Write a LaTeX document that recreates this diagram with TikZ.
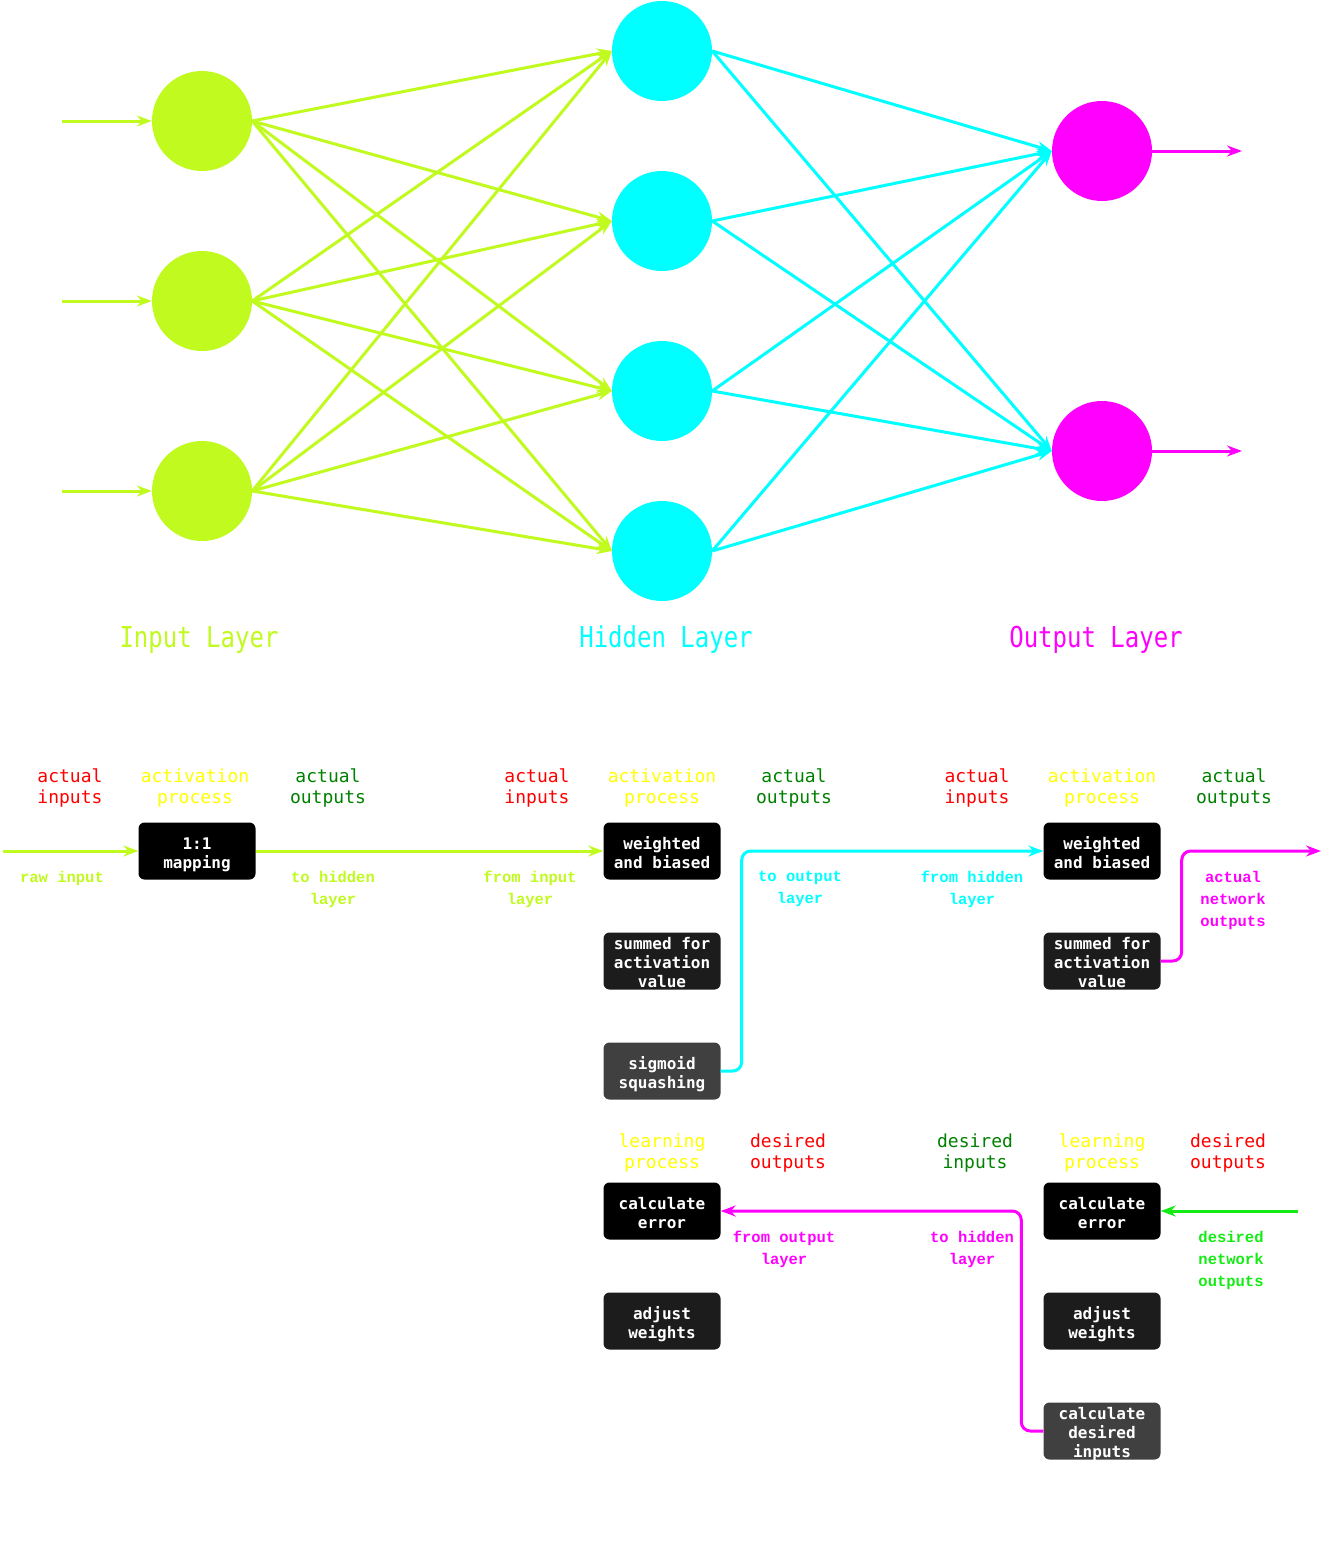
\documentclass[tikz,border=0pt]{standalone}
\usepackage{fontspec}
\newfontfamily\dmono{DejaVu Sans Mono}
\newfontfamily\cmono{Liberation Mono}
\usetikzlibrary{arrows.meta}
\definecolor{lime}{RGB}{192,250,30}
\definecolor{cyn}{RGB}{0,255,255}
\definecolor{mag}{RGB}{255,0,255}
\definecolor{dgreen}{RGB}{0,128,0}
\definecolor{bgreen}{RGB}{20,235,20}
\definecolor{yel}{RGB}{255,255,0}
\definecolor{rd}{RGB}{255,0,0}
\definecolor{box1}{RGB}{0,0,0}
\definecolor{box2}{RGB}{28,28,28}
\definecolor{box3}{RGB}{64,64,64}
\newcommand{\tallt}[1]{\scalebox{1}[1.2]{#1}}
\newcommand{\btxt}[1]{\raisebox{-4pt}[\height][\depth]{\begin{tabular}{@{}c@{}}#1\end{tabular}}}
\begin{document}
\begin{tikzpicture}[x=1pt,y=-1pt,
  neuron/.style={circle,minimum size=100pt,inner sep=0pt},
  edge/.style={line width=3pt,-{Stealth[length=15pt,width=11pt,inset=5pt]}},
  conn/.style={line width=3pt,-{Stealth[length=15pt,width=11pt,inset=5pt]}},
  layerlbl/.style={font=\dmono\fontsize{24}{28}\selectfont},
  pbox/.style={rounded corners=6pt,minimum width=117pt,minimum height=57pt,inner sep=0pt,align=center,text=white,font=\dmono\bfseries\fontsize{16}{19}\selectfont},
  head/.style={align=center,font=\dmono\fontsize{18}{21}\selectfont},
  small/.style={align=center,font=\cmono\bfseries\fontsize{15.5}{22}\selectfont}
]
\useasboundingbox (0,0) rectangle (1322,1547);
% ---------- neurons ----------
\node[neuron,fill=lime] (i1) at (202,121) {};
\node[neuron,fill=lime] (i2) at (202,301) {};
\node[neuron,fill=lime] (i3) at (202,491) {};
\node[neuron,fill=cyn] (h1) at (662,51) {};
\node[neuron,fill=cyn] (h2) at (662,221) {};
\node[neuron,fill=cyn] (h3) at (662,391) {};
\node[neuron,fill=cyn] (h4) at (662,551) {};
\node[neuron,fill=mag] (o1) at (1102,151) {};
\node[neuron,fill=mag] (o2) at (1102,451) {};
\coordinate (in1) at (62,121);
\coordinate (in2) at (62,301);
\coordinate (in3) at (62,491);
\coordinate (out1) at (1242,151);
\coordinate (out2) at (1242,451);
\foreach \k in {1,2,3} {\draw[edge,lime] (in\k) -- (i\k.west);}
\foreach \i in {1,2,3} {\foreach \h in {1,2,3,4} {\draw[edge,lime] (i\i.east) -- (h\h.west);}}
\foreach \h in {1,2,3,4} {\foreach \o in {1,2} {\draw[edge,cyn] (h\h.east) -- (o\o.west);}}
\draw[edge,mag] (o1.east) -- (out1);
\draw[edge,mag] (o2.east) -- (out2);
% ---------- layer labels ----------
\node[layerlbl,text=lime] (lin) at (199,640) {\tallt{Input Layer}};
\node[layerlbl,text=cyn] (lhid) at (666,640) {\tallt{Hidden Layer}};
\node[layerlbl,text=mag] (lout) at (1096,640) {\tallt{Output Layer}};
% ---------- activation headings ----------
\node[head,text=rd] (ha1) at (70,788) {actual\\inputs};
\node[head,text=yel] (hb1) at (195,788) {activation\\process};
\node[head,text=dgreen] (hc1) at (328,788) {actual\\outputs};
\node[head,text=rd] (ha2) at (537,788) {actual\\inputs};
\node[head,text=yel] (hb2) at (662,788) {activation\\process};
\node[head,text=dgreen] (hc2) at (794,788) {actual\\outputs};
\node[head,text=rd] (ha3) at (977,788) {actual\\inputs};
\node[head,text=yel] (hb3) at (1102,788) {activation\\process};
\node[head,text=dgreen] (hc3) at (1234,788) {actual\\outputs};
% ---------- activation boxes ----------
\node[pbox,fill=box1] (map) at (197,851) {\btxt{1:1\\mapping}};
\node[pbox,fill=box1] (wb1) at (662,851) {\btxt{weighted\\and biased}};
\node[pbox,fill=box2] (sum1) at (662,961) {\btxt{summed for\\activation\\value}};
\node[pbox,fill=box3] (sig) at (662,1071) {\btxt{sigmoid\\squashing}};
\node[pbox,fill=box1] (wb2) at (1102,851) {\btxt{weighted\\and biased}};
\node[pbox,fill=box2] (sum2) at (1102,961) {\btxt{summed for\\activation\\value}};
% ---------- small labels (activation) ----------
\node[small,text=lime] (lraw) at (62,878) {raw input};
\node[small,text=lime] (lth) at (333,889) {to hidden\\layer};
\node[small,text=lime] (lfi) at (530,889) {from input\\layer};
\node[small,text=cyn] (lto) at (800,889) {to output\\layer};
\node[small,text=cyn] (lfh) at (972,889) {from hidden\\layer};
\node[small,text=mag] (lano) at (1233,900) {actual\\network\\outputs};
% ---------- activation connectors ----------
\coordinate (rawin) at (3,851);
\coordinate (netout) at (1321,851);
\draw[conn,lime] (rawin) -- (map.west);
\draw[conn,lime] (map.east) -- (wb1.west);
\draw[conn,cyn,rounded corners=9pt] (sig.east) -- ++(21,0) |- (wb2.west);
\draw[conn,mag,rounded corners=9pt] (sum2.east) -- ++(21,0) |- (netout);
% ---------- learning headings ----------
\node[head,text=yel] (hl1) at (662,1153) {learning\\process};
\node[head,text=rd] (hd1) at (788,1153) {desired\\outputs};
\node[head,text=dgreen] (hdi) at (975,1153) {desired\\inputs};
\node[head,text=yel] (hl2) at (1102,1153) {learning\\process};
\node[head,text=rd] (hd2) at (1228,1153) {desired\\outputs};
% ---------- learning boxes ----------
\node[pbox,fill=box1] (ce1) at (662,1211) {\btxt{calculate\\error}};
\node[pbox,fill=box2] (aw1) at (662,1321) {\btxt{adjust\\weights}};
\node[pbox,fill=box1] (ce2) at (1102,1211) {\btxt{calculate\\error}};
\node[pbox,fill=box2] (aw2) at (1102,1321) {\btxt{adjust\\weights}};
\node[pbox,fill=box3] (cdi) at (1102,1431) {\btxt{calculate\\desired\\inputs}};
% ---------- small labels (learning) ----------
\node[small,text=mag] (lfo) at (784,1249) {from output\\layer};
\node[small,text=mag] (lth2) at (972,1249) {to hidden\\layer};
\node[small,text=bgreen] (ldno) at (1231,1260) {desired\\network\\outputs};
% ---------- learning connectors ----------
\coordinate (desin) at (1298,1211);
\draw[conn,bgreen] (desin) -- (ce2.east);
\draw[conn,mag,rounded corners=9pt] (cdi.west) -- ++(-22,0) |- (ce1.east);
\end{tikzpicture}
\end{document}
